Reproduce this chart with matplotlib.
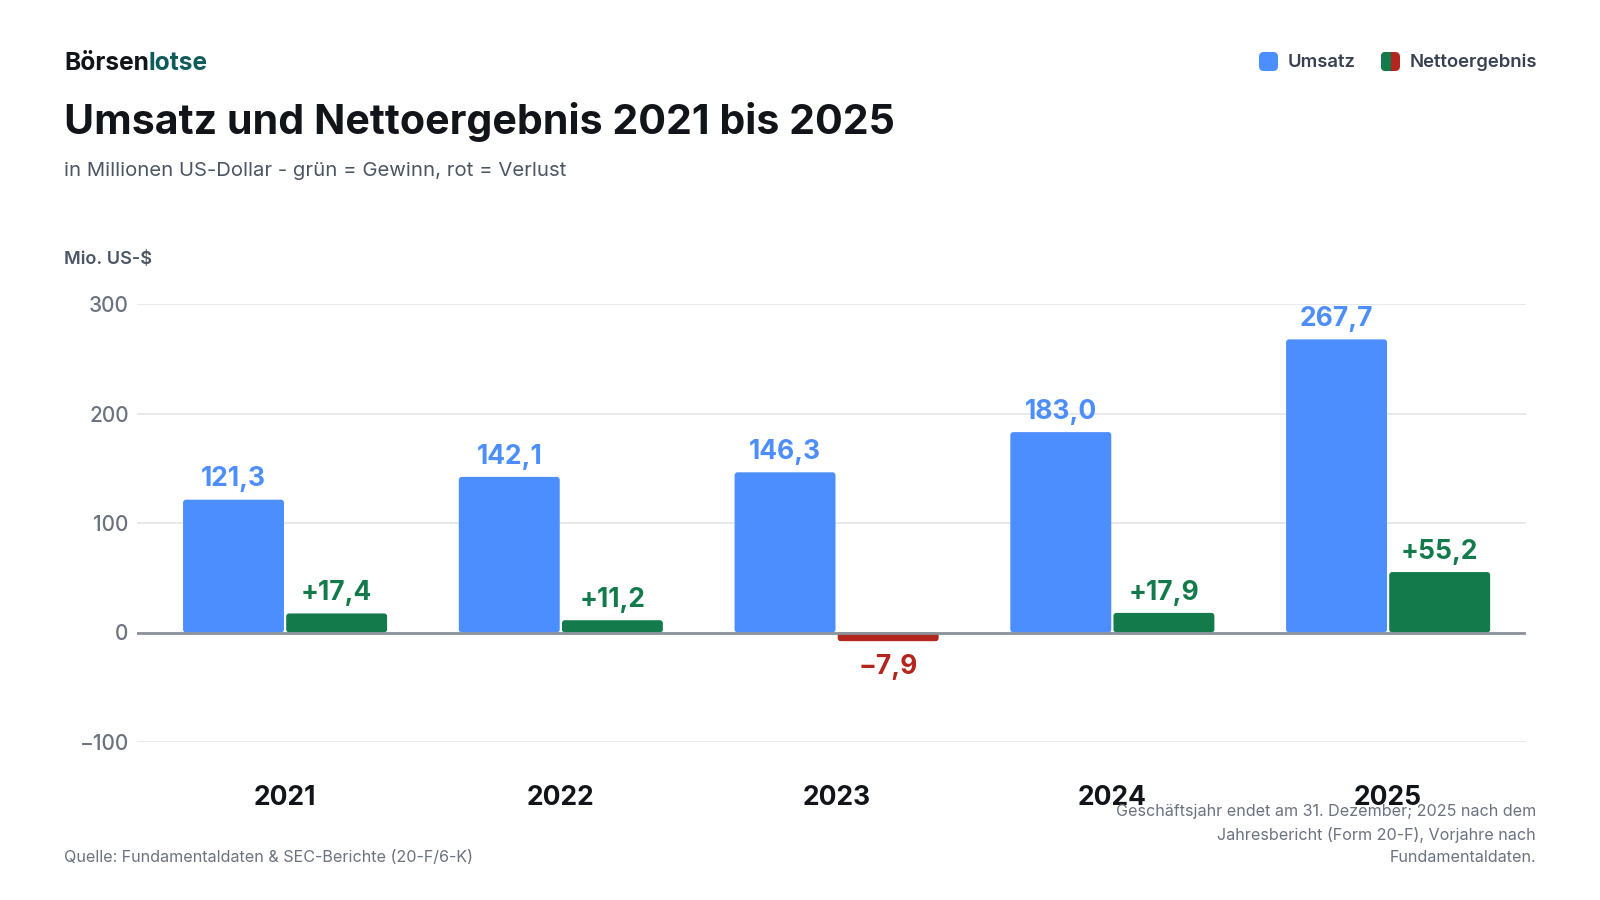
import matplotlib.pyplot as plt
from matplotlib.patches import FancyBboxPatch, Rectangle

# data
years = ['2021', '2022', '2023', '2024', '2025']
umsatz = [121.3, 142.1, 146.3, 183.0, 267.7]
netto = [17.4, 11.2, -7.9, 17.9, 55.2]
y_ticks = [-100, 0, 100, 200, 300]

blue = '#4D8EFF'
green = '#137B4B'
red = '#B3261E'
dark = '#111418'
grey = '#6B7280'
slate = '#374151'

plt.rcParams['font.family'] = ['Inter', 'DejaVu Sans']

W, H = 1600, 900
fig = plt.figure(figsize=(16, 9), dpi=100)


def fx(px):
    return px / W


def fy(px):
    return 1 - px / H


def de(v, sign=False):
    s = f"{abs(v):.1f}".replace('.', ',')
    if sign:
        return ('+' if v >= 0 else '\u2212') + s
    return s


def round_bars(ax, bars, r_px=3):
    # swap plain rectangles for slightly rounded ones
    px_x = 275.75
    px_y = 1.095
    rs = r_px / px_x
    ma = (r_px / px_y) / rs
    for b in bars:
        x0, y0 = b.get_x(), b.get_y()
        bw, bh = b.get_width(), b.get_height()
        if bh < 0:
            y0, bh = y0 + bh, -bh
        p = FancyBboxPatch((x0, y0), bw, bh, boxstyle=f'round,pad=0,rounding_size={rs}',
                           mutation_aspect=ma, facecolor=b.get_facecolor(),
                           edgecolor='none', zorder=2)
        ax.add_patch(p)
        b.set_visible(False)


ax = fig.add_axes([fx(137), fy(742), fx(1526) - fx(137), (742 - 304) / H])
ax.set_xlim(-0.537, 4.5)
ax.set_ylim(-100, 300)

x = list(range(len(years)))
w = 0.366
off = 0.187
b1 = ax.bar([i - off for i in x], umsatz, w, color=blue, zorder=2)
net_colors = [green if v >= 0 else red for v in netto]
b2 = ax.bar([i + off for i in x], netto, w, color=net_colors, zorder=2)
round_bars(ax, b1)
round_bars(ax, b2)

for i, v in enumerate(umsatz):
    ax.annotate(de(v), (i - off, v), xytext=(0, 9.5), textcoords='offset points',
                ha='center', va='baseline', fontsize=19, fontweight='bold',
                color=blue)
for i, v in enumerate(netto):
    if v >= 0:
        ax.annotate(de(v, True), (i + off, v), xytext=(0, 9.5), textcoords='offset points',
                    ha='center', va='baseline', fontsize=19, fontweight='bold',
                    color=green)
    else:
        ax.annotate(de(v, True), (i + off, v), xytext=(0, -9.5), textcoords='offset points',
                    ha='center', va='top', fontsize=19, fontweight='bold',
                    color=red)

ax.axhline(0, color='#8B929C', lw=2, zorder=3)
ax.set_yticks(y_ticks)
ax.set_yticklabels([str(t).replace('-', '\u2212') for t in y_ticks])
ax.yaxis.grid(True, color='#E5E7EB', lw=1.3, zorder=0)
ax.set_axisbelow(True)
ax.tick_params(axis='y', length=0, pad=6, labelsize=15, labelcolor=grey)
for lab in ax.get_yticklabels():
    lab.set_fontweight('medium')
ax.set_xticks(x)
ax.set_xticklabels(years, fontsize=19, fontweight='bold', color=dark)
ax.tick_params(axis='x', length=0, pad=31)
for s in ax.spines.values():
    s.set_visible(False)

# header
t = fig.text(fx(64), fy(70), 'Börsen', fontsize=17.7, fontweight='bold', color=dark,
             va='baseline')
fig.canvas.draw()
bb = t.get_window_extent()
fig.text(bb.x1 / W, fy(70), 'lotse', fontsize=17.7, fontweight='bold', color='#0F5B5C',
         va='baseline')

fig.text(fx(64), fy(134), 'Umsatz und Nettoergebnis 2021 bis 2025', fontsize=29.6,
         fontweight='bold', color=dark, va='baseline')
fig.text(fx(64), fy(176), 'in Millionen US-Dollar - grün = Gewinn, rot = Verlust',
         fontsize=14.6, color='#4B5563', va='baseline')
fig.text(fx(64), fy(264), 'Mio. US-$', fontsize=13, fontweight='semibold',
         color='#4B5563', va='baseline')

# legend
sq = 19
p = FancyBboxPatch((fx(1259), fy(71)), sq / W, sq / H, boxstyle='round,pad=0,rounding_size=0.003',
                   transform=fig.transFigure, facecolor=blue, edgecolor='none',
                   mutation_aspect=16 / 9)
fig.patches.append(p)
fig.text(fx(1288), fy(67), 'Umsatz', fontsize=13.3, fontweight='semibold', color=slate,
         va='baseline')
pr = FancyBboxPatch((fx(1381), fy(71)), sq / W, sq / H, boxstyle='round,pad=0,rounding_size=0.003',
                    transform=fig.transFigure, facecolor=red, edgecolor='none',
                    mutation_aspect=16 / 9)
fig.patches.append(pr)
pg = FancyBboxPatch((fx(1381), fy(71)), sq / W, sq / H, boxstyle='round,pad=0,rounding_size=0.003',
                    transform=fig.transFigure, facecolor=green, edgecolor='none',
                    mutation_aspect=16 / 9)
clip = Rectangle((fx(1381), fy(71)), (sq / 2) / W, sq / H, transform=fig.transFigure)
pg.set_clip_path(clip)
fig.patches.append(pg)
fig.text(fx(1410), fy(67), 'Nettoergebnis', fontsize=13.3, fontweight='semibold', color=slate,
         va='baseline')

# footer
fig.text(fx(64), fy(862), 'Quelle: Fundamentaldaten & SEC-Berichte (20-F/6-K)',
         fontsize=11.6, color=grey, va='baseline')
fig.text(fx(1536), fy(862),
         'Geschäftsjahr endet am 31. Dezember; 2025 nach dem\n'
         'Jahresbericht (Form 20-F), Vorjahre nach\nFundamentaldaten.',
         fontsize=11.6, color=grey, ha='right', va='baseline', linespacing=1.6,
         multialignment='right')

fig.savefig('out.png', dpi=100)
